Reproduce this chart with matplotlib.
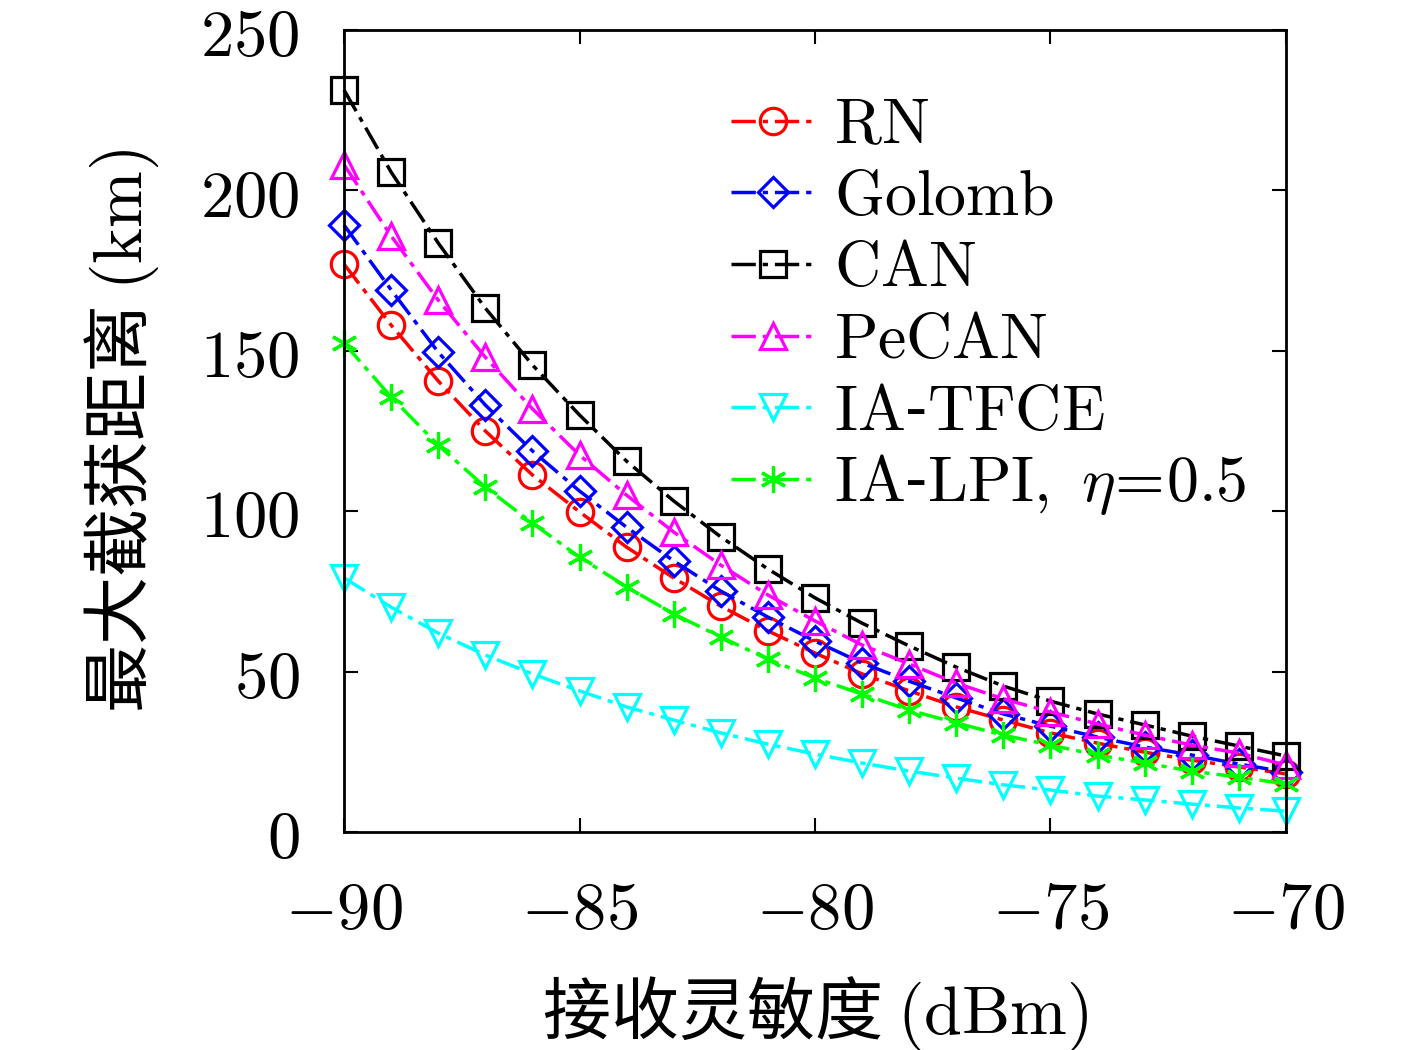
import numpy as np
import matplotlib
matplotlib.use("Agg")
import matplotlib.pyplot as plt

plt.rcParams['font.family'] = ['Noto Sans CJK SC', 'DejaVu Sans']
plt.rcParams['mathtext.fontset'] = 'cm'

# receiver sensitivity (dBm)
sens = np.arange(-90, -69, 1)

rn = [177, 158, 140.6, 125, 111.3, 99.8, 88.8, 79.2, 70.4, 62.7, 55.8,
      49.3, 44, 39, 34.9, 30.9, 27.7, 24.9, 22.4, 20.3, 18.1]
golomb = [189.2, 169, 149.6, 133.1, 118.8, 106.3, 95, 84.5, 75.1, 67, 59.5,
          52.7, 47, 41.8, 36.8, 33, 29.6, 26.5, 24, 21.2, 18.7]
can = [231.3, 205.7, 183.6, 163.3, 145.6, 130, 115.6, 103.2, 92, 82, 73,
       65.1, 58, 51.4, 45.5, 40.8, 36.8, 33.4, 29.9, 26.8, 23.7]
pecan = [208, 185.8, 165.8, 148, 131.9, 117.5, 105, 93.5, 83.2, 73.9, 65.8,
         58.3, 52.4, 46.4, 41.5, 37.4, 33.7, 30.2, 27.1, 24.6, 20.9]
tfce = [79.2, 70.1, 62, 55.2, 49.3, 44, 39, 34.9, 30.9, 27.4, 24.3,
        21.5, 19, 16.8, 14.7, 13.1, 11.2, 10, 8.7, 7.5, 6.5]
lpi = [152.4, 135.6, 120.6, 107.5, 96.3, 85.7, 76.4, 68, 60.8, 53.9, 48,
       43, 38, 34, 30.2, 27.1, 24, 21.5, 19, 17.1, 15]

labels = [r'$\mathrm{RN}$', r'$\mathrm{Golomb}$', r'$\mathrm{CAN}$',
          r'$\mathrm{PeCAN}$', r'$\mathrm{IA}$-$\mathrm{TFCE}$',
          r'$\mathrm{IA}$-$\mathrm{LPI},\ \eta\!=\!0.5$']

fig = plt.figure(figsize=(14.17, 10.5), dpi=100)
ax = fig.add_axes([0.2428, 0.2076, 0.6647, 0.7638])

series = [
    (rn, '#FF0000', 'o', labels[0]),
    (golomb, '#0000FF', 'D', labels[1]),
    (can, '#000000', 's', labels[2]),
    (pecan, '#FF00FF', '^', labels[3]),
    (tfce, '#00FFFF', 'v', labels[4]),
    (lpi, '#00FF00', (6, 2, 0), labels[5]),
]
for vals, col, mk, lab in series:
    ms = 19
    if mk == 'D':
        ms = 15
    ax.plot(sens, vals, linestyle=(0, (7, 2, 1.5, 2)), color=col, linewidth=2.5,
            marker=mk, markersize=ms, markerfacecolor='none',
            markeredgecolor=col, markeredgewidth=2.3, label=lab, clip_on=False)

ax.set_xlim(-90, -70)
ax.set_ylim(0, 250)
ax.set_xticks([-90, -85, -80, -75, -70])
ax.set_xticklabels([r'$-90$', r'$-85$', r'$-80$', r'$-75$', r'$-70$'])
ax.set_yticks([0, 50, 100, 150, 200, 250])
ax.set_yticklabels([r'$0$', r'$50$', r'$100$', r'$150$', r'$200$', r'$250$'])
ax.tick_params(direction='in', length=10, width=1.5, top=True, right=True,
               labelsize=48)
ax.tick_params(axis='x', pad=32)
ax.tick_params(axis='y', pad=32)
for sp in ax.spines.values():
    sp.set_linewidth(2)

ax.set_xlabel('接收灵敏度 $(\\mathrm{dBm})$', fontsize=49, labelpad=22)
ax.set_ylabel('最大截获距离 $(\\mathrm{km})$', fontsize=49, labelpad=28)

ax.legend(loc='upper left', bbox_to_anchor=(0.384, 0.955), frameon=False,
          fontsize=46, handlelength=1.3, handletextpad=0.3, labelspacing=0.08,
          borderaxespad=0)

fig.savefig('out.png', dpi=100)
